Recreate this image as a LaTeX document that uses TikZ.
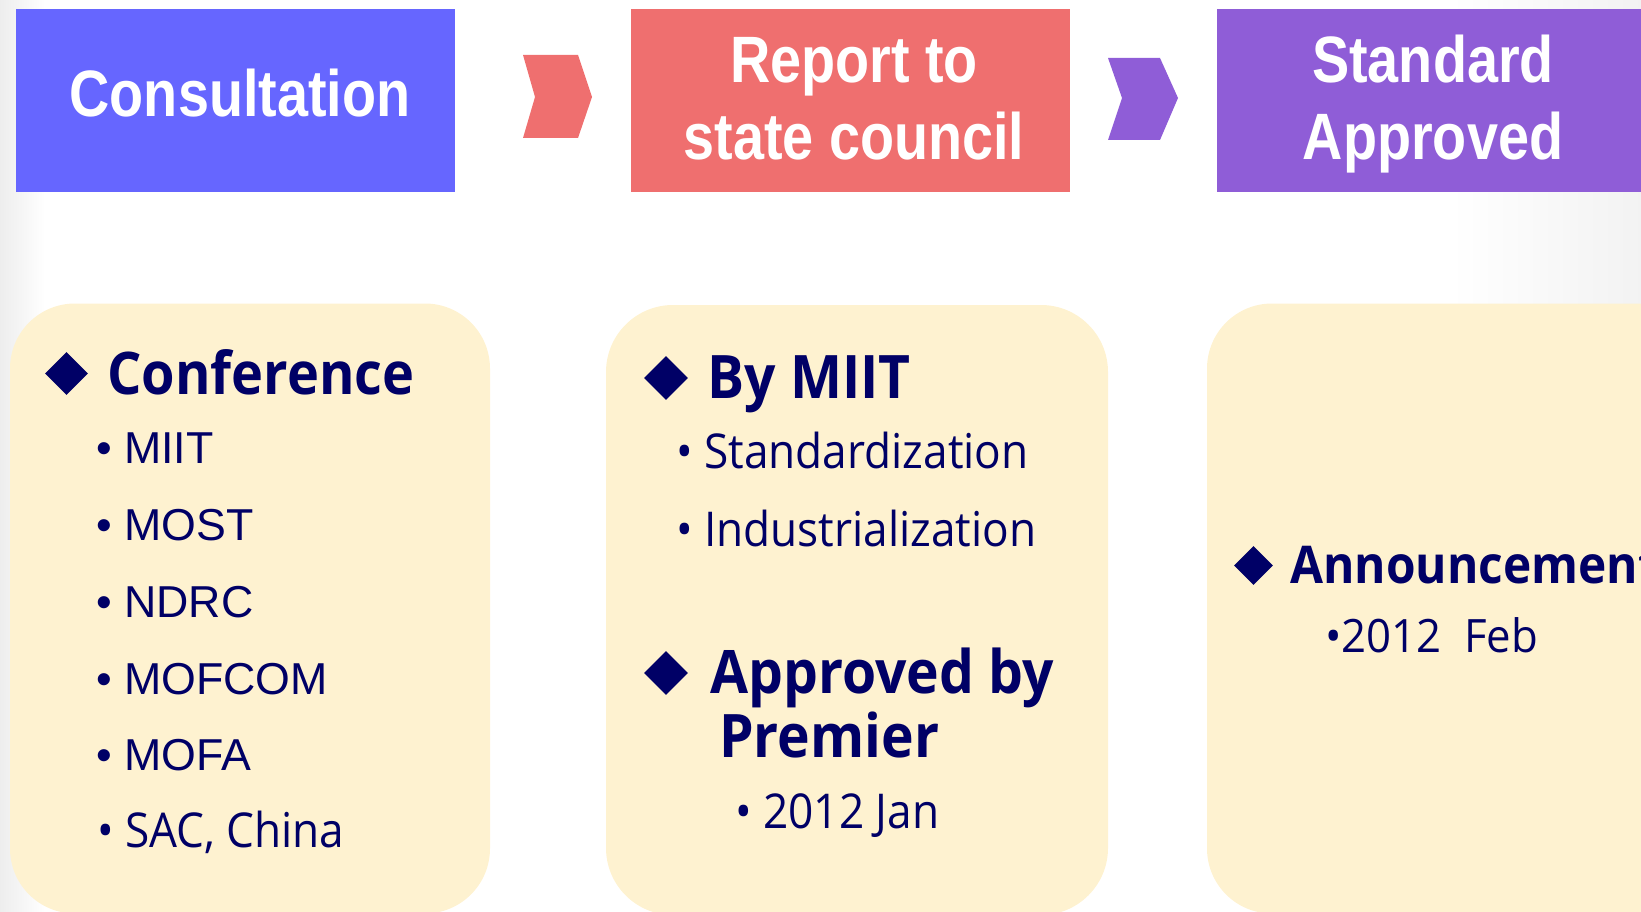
\documentclass[tikz,border=0pt]{standalone}
\usepackage{fontspec}
\usepackage{tikz}
\usepackage{xcolor}
\usetikzlibrary{shapes}
\setmainfont{Liberation Sans}
\newfontfamily\headfont[FakeStretch=0.85]{Liberation Sans}
\newfontfamily\cardfont[FakeStretch=0.92]{Open Sans}
\newfontfamily\datefont[FakeStretch=0.95]{Open Sans}
\definecolor{stepblue}{HTML}{6666FF}
\definecolor{stepred}{HTML}{EF6F6F}
\definecolor{steppurple}{HTML}{8F5DD7}
\definecolor{cardbg}{HTML}{FEF2D0}
\definecolor{inknavy}{HTML}{000066}

\begin{document}
\begin{tikzpicture}[x=1pt,y=-1pt,
        stage/.style={rectangle,minimum width=439pt,minimum height=183pt,inner sep=0},
        stagetext/.style={anchor=base,align=center,inner sep=0,text=white,
            font=\headfont\bfseries\fontsize{65.6}{77}\selectfont},
        card/.style={rectangle,fill=cardbg,rounded corners=65pt,minimum width=480pt,
            minimum height=610pt,inner sep=0},
        diam/.style={diamond,fill=inknavy,minimum width=43pt,minimum height=43pt,inner sep=0},
        topic/.style={anchor=base west,align=left,inner sep=0,text=inknavy,
            font=\cardfont\bfseries\fontsize{60}{64}\selectfont},
        entry/.style={anchor=base west,inner sep=0,text=inknavy,font=\fontsize{44.7}{50}\selectfont},
        subentry/.style={anchor=base west,inner sep=0,text=inknavy,
            font=\cardfont\fontsize{48}{54}\selectfont}]
            \useasboundingbox (0,0) rectangle (1641,912);
            \clip (0,0) rectangle (1641,912);
            \shade[left color=black!7,right color=white] (0,0) rectangle (45,912);
            \shade[left color=white,right color=black!5] (1450,0) rectangle (1641,304);

            \node[stage,fill=stepblue] (consult) at (235.5,100.5) {};
            \node[stage,fill=stepred] (report) at (850.5,100.5) {};
            \node[stage,fill=steppurple] (approve) at (1436.5,100.5) {};
            \node[stagetext] (consulttxt) at (240,117) {Consultation};
            \node[stagetext] (reporttxt) at (854,160) {Report to\\state council};
            \node[stagetext] (approvetxt) at (1433,160) {Standard\\Approved};

            \fill[stepred] (523,55) -- (578,55) -- (592,97) -- (578,138) -- (523,138) -- (535,97) -- cycle;
            \fill[steppurple] (1108,58) -- (1160,58) -- (1178,98) -- (1160,140) -- (1108,140) -- (1122,98) -- cycle;

            \node[card] (confcard) at (250,608.5) {};
            \node[card,minimum width=502pt,rounded corners=67pt] (miitcard) at (857,610) {};
            \node[card,minimum width=502pt] (anncard) at (1458,608.5) {};

            \node[diam] (d1) at (66.5,373.5) {};
            \node[topic,font=\cardfont\bfseries\fontsize{58.8}{64}\selectfont] (conf) at (107,394) {Conference};
            \node[entry] (e1) at (96,463) {• MIIT};
            \node[entry] (e2) at (96,540) {• MOST};
            \node[entry] (e3) at (96,617) {• NDRC};
            \node[entry] (e4) at (96,694) {• MOFCOM};
            \node[entry] (e5) at (96,770) {• MOFA};
            \node[subentry] (e6) at (97,847) {• SAC, China};

            \node[diam,minimum width=44pt,minimum height=44pt] (d2) at (666,378) {};
            \node[topic] (bymiit) at (707,398) {By MIIT};
            \node[subentry] (s1) at (676,468) {• Standardization};
            \node[subentry] (s2) at (676,546) {• Industrialization};
            \node[diam,minimum width=44pt,minimum height=44pt] (d3) at (666,673) {};
            \node[topic] (premier) at (710,757) {Approved by\\\hspace*{9pt}Premier};
            \node[subentry] (s3) at (735,828) {• 2012 Jan};

            \node[diam,minimum width=39pt,minimum height=39pt] (d4) at (1253.5,565.5) {};
            \node[topic,font=\cardfont\bfseries\fontsize{52}{58}\selectfont] (announce) at (1290,583) {Announcement};
            \node[subentry,font=\datefont\fontsize{46}{52}\selectfont] (s4) at (1325,652) {•2012~~Feb};
\end{tikzpicture}
\end{document}
